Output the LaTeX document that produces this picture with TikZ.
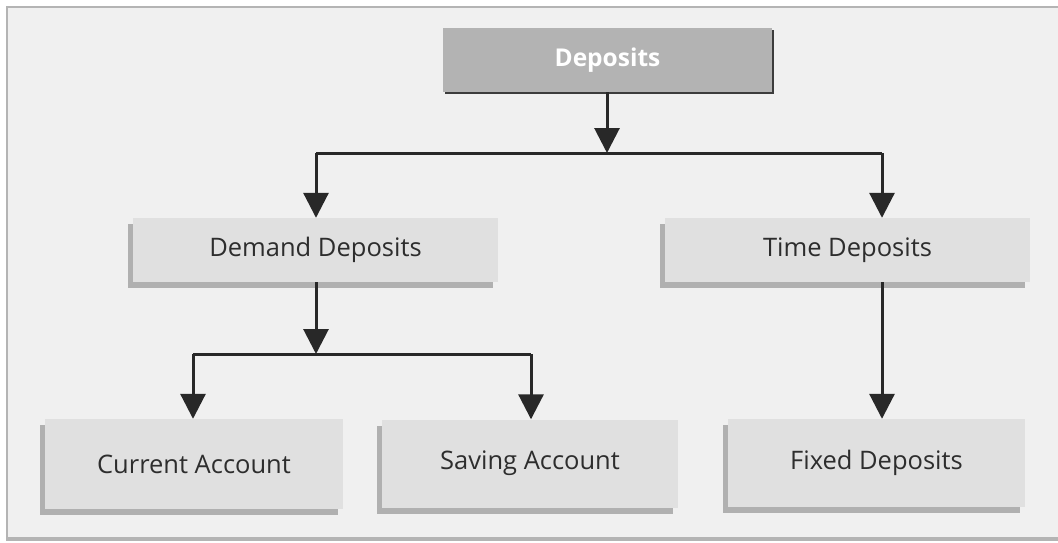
\documentclass[tikz,border=0pt]{standalone}
\usepackage{fontspec}
\setmainfont{Open Sans}
\usetikzlibrary{arrows.meta,shadows}
\definecolor{framebg}{RGB}{240,240,240}
\definecolor{frameln}{RGB}{180,180,180}
\definecolor{boxbg}{RGB}{224,224,224}
\definecolor{boxsh}{RGB}{176,176,176}
\definecolor{topbg}{RGB}{179,179,179}
\definecolor{topsh}{RGB}{60,60,60}
\definecolor{txt}{RGB}{45,45,45}
\definecolor{arr}{RGB}{40,40,40}
\tikzset{
  lbox/.style={fill=boxbg, draw=none, text=txt, font=\fontsize{25.5}{30}\selectfont,
    inner sep=0pt, anchor=center,
    drop shadow={shadow xshift=-5pt, shadow yshift=-6pt, fill=boxsh, opacity=1}},
  topbox/.style={fill=topbg, draw=none, text=white, font=\fontsize{24.5}{29}\selectfont\bfseries,
    inner sep=0pt, anchor=center,
    drop shadow={shadow xshift=2pt, shadow yshift=-2pt, fill=topsh, opacity=1}},
  conn/.style={draw=arr, line width=3pt},
  arrw/.style={conn, -{Triangle[width=25pt,length=25pt]}}
}
\begin{document}
\begin{tikzpicture}[x=1pt,y=-1pt]
\useasboundingbox (0,0) rectangle (1058,543);
\fill[white] (0,0) rectangle (1058,543);
% frame
\fill[frameln] (6,536) rectangle (1070,541);
\fill[framebg] (7,7) rectangle (1070,537);
\draw[frameln, line width=2pt] (1070,7) -- (7,7) -- (7,537);
% nodes
\node[topbox, minimum width=329pt, minimum height=64pt] (dep) at (607.5,60) {Deposits};
\node[lbox, minimum width=365pt, minimum height=64pt] (dem) at (315.5,250) {Demand Deposits};
\node[lbox, minimum width=365pt, minimum height=64pt] (tim) at (847.5,250) {Time Deposits};
\node[lbox, minimum width=298pt, minimum height=90pt] (cur) at (194,464) {Current Account};
\node[lbox, minimum width=296pt, minimum height=88pt] (sav) at (530,463.5) {\raisebox{2pt}{Saving Account}};
\node[lbox, minimum width=297pt, minimum height=88pt] (fix) at (876.5,463) {Fixed Deposits};
% junctions
\coordinate (j1) at (607,153);
\coordinate (j1l) at (316,153);
\coordinate (j1r) at (882,153);
\coordinate (j2) at (316,354);
\coordinate (j2l) at (193,354);
\coordinate (j2r) at (531,354);
% connectors
\draw[arrw] (dep.south -| j1) -- (j1);
\draw[conn] (j1l) -- (j1r);
\draw[arrw] (j1l) -- (j1l |- dem.north);
\draw[arrw] (j1r) -- (j1r |- tim.north);
\draw[arrw] (dem.south -| j2) -- (j2);
\draw[conn] (j2l) -- (j2r);
\draw[arrw] (j2l) -- (j2l |- cur.north);
\draw[arrw] (j2r) -- (j2r |- sav.north);
\draw[arrw] (tim.south -| j1r) -- (j1r |- fix.north);
\end{tikzpicture}
\end{document}
